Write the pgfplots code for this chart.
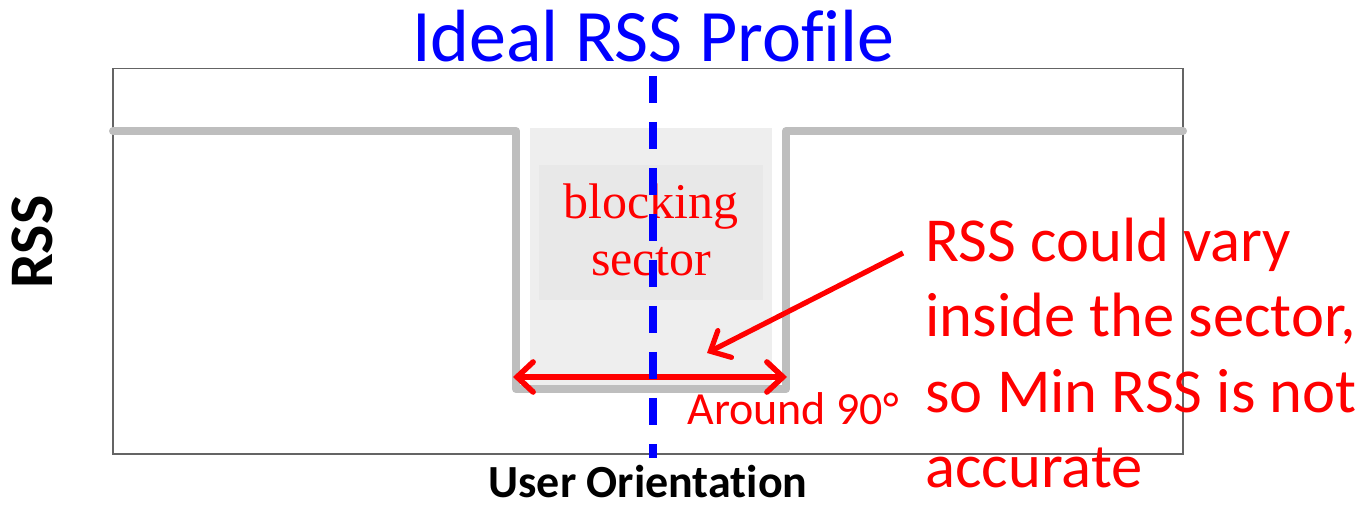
\documentclass[border=0pt]{standalone}
\usepackage{pgfplots}
\pgfplotsset{compat=1.18}
\usepackage{fontspec}
\setmainfont{Carlito}[Ligatures=NoCommon]
\newfontfamily\serifcam{Liberation Serif}
\usetikzlibrary{arrows.meta}
\definecolor{profgray}{RGB}{190,190,190}
\definecolor{shadegray}{RGB}{238,238,238}
\definecolor{innerbox}{RGB}{232,232,232}
\definecolor{framegray}{RGB}{100,100,100}
\begin{document}
\begin{tikzpicture}[x=1pt,y=1pt]
\useasboundingbox (0,0) rectangle (684,253);
\begin{axis}[
  at={(56.5pt,26pt)}, anchor=south west,
  scale only axis, width=535pt, height=192.75pt,
  xmin=113, xmax=1183, ymin=52, ymax=437.5,
  xtick=\empty, ytick=\empty,
  axis line style={framegray, line width=0.6pt},
  clip=false,
]
% shaded blocking region
\fill[shadegray] (axis cs:530,121) rectangle (axis cs:772,378);
\fill[innerbox] (axis cs:539,206) rectangle (axis cs:763,341);
% ideal RSS profile
\addplot[profgray, line width=4pt, line join=round, line cap=round] coordinates {
 (113,375) (516,375) (516,117) (786,117) (786,375) (1183,375)
};
% texts
\node[anchor=base, red, font=\serifcam\fontsize{25}{28}\selectfont] at (axis cs:651,287) {blocking};
\node[anchor=base, red, font=\serifcam\fontsize{25}{28}\selectfont] at (axis cs:651,230) {sector};
% red double arrow
\draw[red, line width=2.8pt, {Straight Barb[length=8pt,width=15pt,line cap=round]}-{Straight Barb[length=8pt,width=15pt,line cap=round]}] (axis cs:513,129) -- (axis cs:787,129);
% red pointing arrow
\draw[red, line width=2.6pt, -{Straight Barb[length=8pt,width=15pt,line cap=round]}] (axis cs:903,253) -- (axis cs:707,153);
% blue dashed line
\draw[blue, line width=3.6pt, dash pattern=on 13.5pt off 9.5pt] (axis cs:653,430) -- (axis cs:653,48);
% title
\node[anchor=base, blue, font=\fontsize{37}{40}\selectfont] at (axis cs:653.5,444) {Ideal RSS Profile};
% axis labels
\node[rotate=90, font=\bfseries\fontsize{31}{34}\selectfont] at (axis cs:32.5,264) {RSS};
\node[anchor=base, inner sep=0pt, font=\bfseries\fontsize{23}{25}\selectfont] at (axis cs:648,8) {User Orientation};
% around 90
\node[anchor=base west, red, inner sep=0pt, font=\fontsize{23}{26}\selectfont] at (axis cs:687,81) {Around 90°};
% right annotation
\node[anchor=base west, red, inner sep=0pt, font=\fontsize{31.3}{34}\selectfont] at (axis cs:925,244) {RSS could vary};
\node[anchor=base west, red, inner sep=0pt, font=\fontsize{31.3}{34}\selectfont] at (axis cs:925,169) {inside the sector,};
\node[anchor=base west, red, inner sep=0pt, font=\fontsize{31.3}{34}\selectfont] at (axis cs:925,93) {so Min RSS is not};
\node[anchor=base west, red, inner sep=0pt, font=\fontsize{31.3}{34}\selectfont] at (axis cs:925,18) {accurate};
\end{axis}
\end{tikzpicture}
\end{document}
